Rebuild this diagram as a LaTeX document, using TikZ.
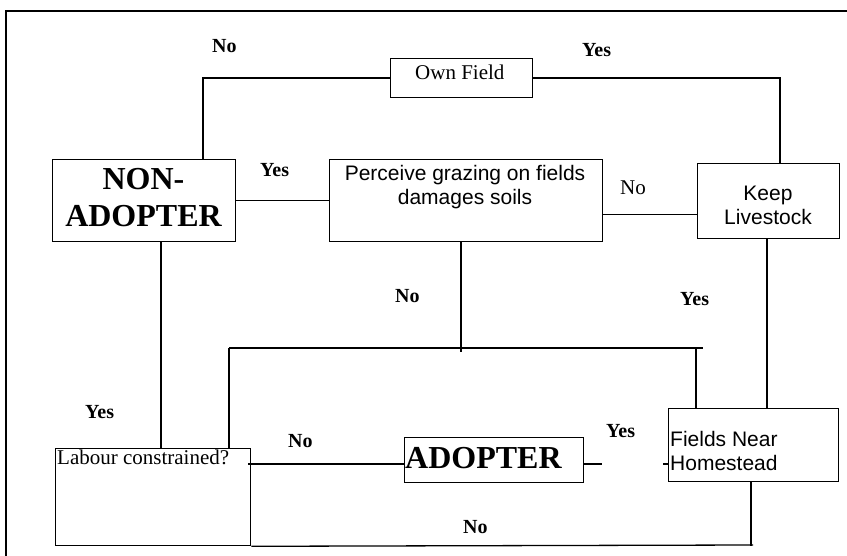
\documentclass[tikz,border=0pt]{standalone}
\usepackage{fontspec}
\setmainfont{Liberation Serif}
\newfontfamily\arialf{Liberation Sans}
\begin{document}
\begin{tikzpicture}[x=1pt,y=-1pt,
  box/.style={draw, line width=1.3pt, inner sep=0pt, anchor=north west},
  conn/.style={line width=1.3pt},
  lab/.style={font=\fontsize{20}{24}\selectfont\bfseries, inner sep=0pt, anchor=base west},
  serif/.style={font=\fontsize{21}{24}\selectfont, inner sep=0pt},
  sans/.style={font=\arialf\fontsize{21}{24}\selectfont, inner sep=0pt},
  big/.style={font=\fontsize{32}{37}\selectfont\bfseries, inner sep=0pt}]
\useasboundingbox (0,0) rectangle (847,556);
\draw[line width=1.8pt] (6,556) -- (6,11) -- (847,11);
% boxes
\node[box, minimum width=142pt, minimum height=39pt] (own) at (390,58) {};
\node[box, minimum width=183pt, minimum height=82pt] (nonad) at (52,159) {};
\node[box, minimum width=273pt, minimum height=82pt] (perc) at (329,159) {};
\node[box, minimum width=142pt, minimum height=75pt] (keep) at (697,163) {};
\node[box, minimum width=170pt, minimum height=73pt] (fields) at (668,408) {};
\node[box, minimum width=179pt, minimum height=45pt] (adopter) at (404,437) {};
\node[box, minimum width=195pt, minimum height=97pt] (labour) at (55,448) {};
% texts
\node[serif, anchor=base west] (tOwn) at (415,80) {Own Field};
\node[big, anchor=north, align=center] (tNon) at (143.5,168) {NON-\\ADOPTER};
\node[sans, anchor=north, align=center] (tPerc) at (465,165) {Perceive grazing on fields\\damages soils};
\node[sans, anchor=north, align=center] (tKeep) at (768,186) {Keep\\Livestock};
\node[sans, anchor=north west, align=left] (tFields) at (670,431) {Fields Near\\Homestead};
\node[big, anchor=base west] (tAdopt) at (405,468) {ADOPTER};
\node[serif, anchor=base west] (tLab) at (57,464) {Labour constrained?};
% connectors
\draw[conn] (own.west) -| ([xshift=151pt]nonad.north west);
\draw[conn] (own.east) -| ([xshift=83pt]keep.north west);
\draw[conn] (nonad.east) -- (perc.west);
\coordinate (pk) at ([yshift=-14pt]perc.east);
\draw[conn] (pk) -- (pk -| keep.west);
\coordinate (pb) at ([xshift=132pt]perc.south west);
\coordinate (pe) at (461,352);
\draw[conn] (pb) -- (pe);
\coordinate (hl) at (229,348);
\coordinate (hr) at (703,348);
\draw[conn] (hl) -- (hr);
\draw[conn] (hl) -- (hl |- labour.north);
\coordinate (fn) at ([xshift=28pt]fields.north west);
\draw[conn] (fn) -- (fn |- hl);
\coordinate (kb) at ([xshift=70pt]keep.south west);
\draw[conn] (kb) -- (kb |- fields.north);
\coordinate (nb) at ([xshift=109pt]nonad.south west);
\draw[conn] (nb) -- (nb |- labour.north);
\coordinate (lr) at (248,464);
\draw[conn] (lr) -- (lr -| adopter.west);
\coordinate (as) at (602,464);
\draw[conn] (as -| adopter.east) -- (as);
\coordinate (fs) at (663,464);
\draw[conn] (fs) -- (fs -| fields.west);
\coordinate (be) at (753,545);
\draw[conn] (labour.south east) -- (be);
\coordinate (fb) at ([xshift=83pt]fields.south west);
\draw[conn] (fb) -- (fb |- labour.south);
% labels
\node[lab] (l1) at (212,53) {No};
\node[lab] (l2) at (582,57) {Yes};
\node[lab] (l3) at (260,177) {Yes};
\node[serif, anchor=base west] (l4) at (620,195) {No};
\node[lab] (l5) at (395,303) {No};
\node[lab] (l6) at (680,306) {Yes};
\node[lab] (l7) at (85,418) {Yes};
\node[lab] (l8) at (288,447) {No};
\node[lab] (l9) at (606,437) {Yes};
\node[lab] (l10) at (463,533) {No};
\end{tikzpicture}
\end{document}
